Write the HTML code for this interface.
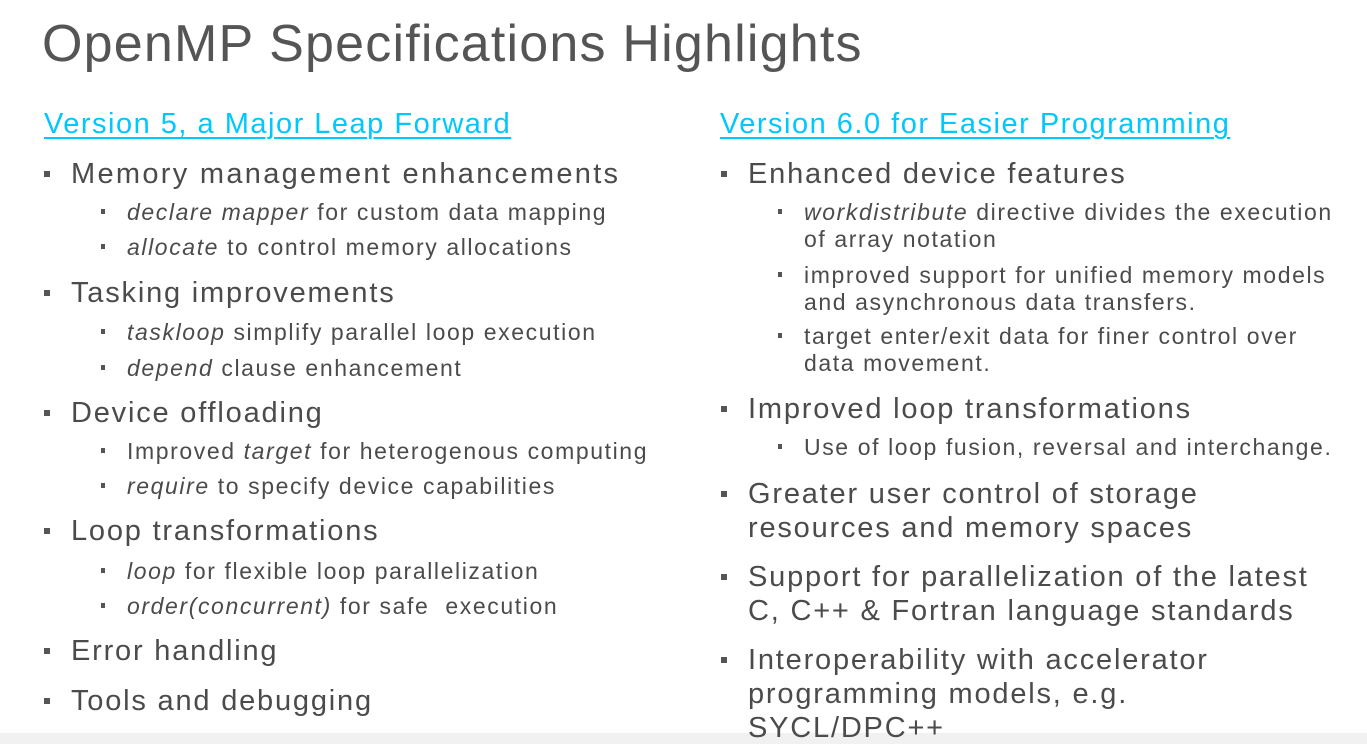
<!DOCTYPE html>
<html><head><meta charset="utf-8"><style>
body{margin:0;width:1367px;height:744px;background:#fff;position:relative;overflow:hidden;font-family:"Liberation Sans",sans-serif;color:#4b4b4b}
div.t{position:absolute;white-space:nowrap}
.ti{left:42px;top:14px;font-size:52px;line-height:60px;color:#555;letter-spacing:1.2px}
.h{font-size:29px;line-height:34px;color:#00c7fd;text-decoration:underline;text-decoration-thickness:1.5px;text-underline-offset:4px;letter-spacing:1.5px}
.a{font-size:29px;line-height:34px;letter-spacing:1.8px}
.b{font-size:23px;line-height:27px;letter-spacing:1.6px}
.s1,.s2{position:absolute;background:#555}
.s1{width:6px;height:6px}
.s2{width:4px;height:5px}
.band{position:absolute;left:0;top:733px;width:1367px;height:11px;background:#f1f1f1}
</style></head><body>
<div class="t ti">OpenMP Specifications Highlights</div>

<div class="t h" style="left:44px;top:107px">Version 5, a Major Leap Forward</div>
<div class="t h" style="left:720px;top:107px">Version 6.0 for Easier Programming</div>

<span class="s1" style="left:44px;top:171px"></span><div class="t a" style="left:71px;top:157px;letter-spacing:2.3px">Memory management enhancements</div>
<span class="s2" style="left:101px;top:209px"></span><div class="t b" style="left:127px;top:199px"><i>declare mapper</i> for custom data mapping</div>
<span class="s2" style="left:101px;top:244px"></span><div class="t b" style="left:127px;top:234px"><i>allocate</i> to control memory allocations</div>

<span class="s1" style="left:44px;top:290px"></span><div class="t a" style="left:71px;top:276px">Tasking improvements</div>
<span class="s2" style="left:101px;top:329px"></span><div class="t b" style="left:127px;top:319px"><i>taskloop</i> simplify parallel loop execution</div>
<span class="s2" style="left:101px;top:365px"></span><div class="t b" style="left:127px;top:355px"><i>depend</i> clause enhancement</div>

<span class="s1" style="left:44px;top:410px"></span><div class="t a" style="left:71px;top:396px">Device offloading</div>
<span class="s2" style="left:101px;top:448px"></span><div class="t b" style="left:127px;top:438px">Improved <i>target</i> for heterogenous computing</div>
<span class="s2" style="left:101px;top:483px"></span><div class="t b" style="left:127px;top:473px"><i>require</i> to specify device capabilities</div>

<span class="s1" style="left:44px;top:528px"></span><div class="t a" style="left:71px;top:514px">Loop transformations</div>
<span class="s2" style="left:101px;top:568px"></span><div class="t b" style="left:127px;top:558px"><i>loop</i> for flexible loop parallelization</div>
<span class="s2" style="left:101px;top:603px"></span><div class="t b" style="left:127px;top:593px"><i>order(concurrent)</i> for safe&nbsp; execution</div>

<span class="s1" style="left:44px;top:648px"></span><div class="t a" style="left:71px;top:634px">Error handling</div>
<span class="s1" style="left:44px;top:698px"></span><div class="t a" style="left:71px;top:684px">Tools and debugging</div>

<span class="s1" style="left:721px;top:171px"></span><div class="t a" style="left:748px;top:157px">Enhanced device features</div>
<span class="s2" style="left:778px;top:209px"></span><div class="t b" style="left:804px;top:199px"><i>workdistribute</i> directive divides the execution</div>
<div class="t b" style="left:804px;top:226px">of array notation</div>
<span class="s2" style="left:778px;top:272px"></span><div class="t b" style="left:804px;top:262px">improved support for unified memory models</div>
<div class="t b" style="left:804px;top:289px">and asynchronous data transfers.</div>
<span class="s2" style="left:778px;top:333px"></span><div class="t b" style="left:804px;top:323px">target enter/exit data for finer control over</div>
<div class="t b" style="left:804px;top:350px">data movement.</div>

<span class="s1" style="left:721px;top:406px"></span><div class="t a" style="left:748px;top:392px">Improved loop transformations</div>
<span class="s2" style="left:778px;top:444px"></span><div class="t b" style="left:804px;top:434px">Use of loop fusion, reversal and interchange.</div>

<span class="s1" style="left:721px;top:491px"></span><div class="t a" style="left:748px;top:477px">Greater user control of storage</div>
<div class="t a" style="left:748px;top:511px">resources and memory spaces</div>

<span class="s1" style="left:721px;top:574px"></span><div class="t a" style="left:748px;top:560px">Support for parallelization of the latest</div>
<div class="t a" style="left:748px;top:594px">C, C++ &amp; Fortran language standards</div>

<span class="s1" style="left:721px;top:657px"></span><div class="t a" style="left:748px;top:643px">Interoperability with accelerator</div>
<div class="t a" style="left:748px;top:677px">programming models, e.g.</div>

<div class="band"></div>
<div class="t a" style="left:748px;top:711px">SYCL/DPC++</div>
</body></html>
